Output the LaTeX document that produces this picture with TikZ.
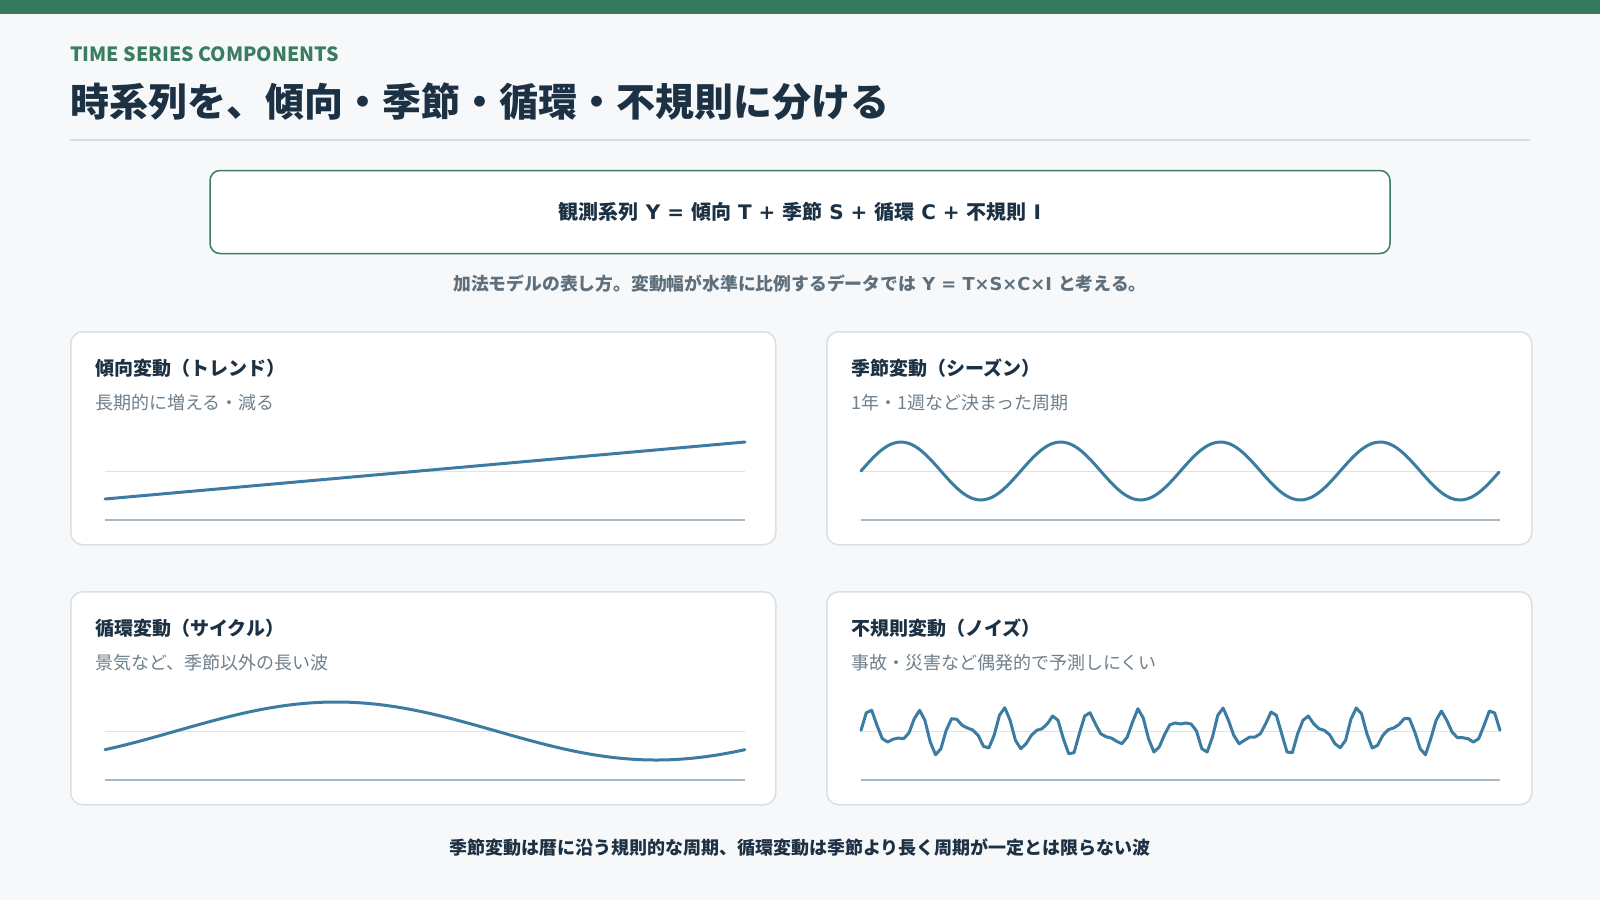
\documentclass[tikz,border=0pt]{standalone}
\usepackage{fontspec}
\setmainfont{Noto Sans CJK JP}
\newfontfamily\latinfont{DejaVu Sans}
\definecolor{topbar}{HTML}{357A5E}
\definecolor{pagebg}{HTML}{F6F8FA}
\definecolor{inkdark}{HTML}{1C3144}
\definecolor{leafgreen}{HTML}{3A7D60}
\definecolor{rulegray}{HTML}{D5DEE4}
\definecolor{panelline}{HTML}{D8E0E6}
\definecolor{notegray}{HTML}{5F6F7B}
\definecolor{subgray}{HTML}{6F808C}
\definecolor{curveblue}{HTML}{3C7CA2}
\definecolor{midgray}{HTML}{DCE4EA}
\definecolor{basegray}{HTML}{A9B8C3}
\begin{document}
\begin{tikzpicture}[x=1pt, y=-1pt,
    panel/.style={draw=panelline, line width=1.5, fill=white, rounded corners=12,
      minimum width=705, minimum height=213, anchor=north west, inner sep=0},
    paneltitle/.style={anchor=west, inner sep=0, text=inkdark, font=\bfseries\fontsize{19}{23}\selectfont},
    panelsub/.style={anchor=west, inner sep=0, text=subgray, font=\fontsize{18}{22}\selectfont},
    curve/.style={draw=curveblue, line width=3, line join=round, line cap=round},
    midline/.style={draw=midgray, line width=1},
    baseline/.style={draw=basegray, line width=2}]
  % Page
  \fill[pagebg] (0,0) rectangle (1600,900);
  \useasboundingbox (0,0) rectangle (1600,900);
  \fill[topbar] (0,0) rectangle (1600,14);

  % Heading
  \node (kicker) [anchor=west, inner sep=0, text=leafgreen, font=\bfseries\fontsize{19.6}{23}\selectfont]
    at (70,54) {TIME SERIES COMPONENTS};
  \node (title) [anchor=west, inner sep=0, text=inkdark, font=\bfseries\fontsize{39}{46}\selectfont]
    at (70,102) {時系列を、傾向・季節・循環・不規則に分ける};
  \draw[rulegray, line width=2] (70,140) -- (1530,140);

  % Formula
  \node (formula) [draw=leafgreen, line width=1.5, fill=white, rounded corners=10,
    minimum width=1180, minimum height=83, text=inkdark, font=\bfseries\fontsize{20}{24}\selectfont]
    at (800,212) {観測系列{\latinfont{} Y = }傾向{\latinfont{} T + }季節{\latinfont{} S + }循環{\latinfont{} C + }不規則{\latinfont{} I}};
  \node (note) [inner sep=0, text=notegray, font=\bfseries\fontsize{17.8}{21}\selectfont]
    at (800,284) {加法モデルの表し方。変動幅が水準に比例するデータでは{\latinfont{} Y = T×S×C×I }と考える。};

  % Panels
  \node (trend) [panel] at (70,331) {};
  \node (season) [panel] at (826,331) {};
  \node (cycle) [panel] at (70,591) {};
  \node (noise) [panel] at (826,591) {};

  \node (trendtitle) [paneltitle] at (95,368) {傾向変動（トレンド）};
  \node (trendsub) [panelsub] at (95,403) {長期的に増える・減る};
  \node (seasontitle) [paneltitle] at (851,368) {季節変動（シーズン）};
  \node (seasonsub) [panelsub] at (851,403) {1年・1週など決まった周期};
  \node (cycletitle) [paneltitle] at (95,628) {循環変動（サイクル）};
  \node (cyclesub) [panelsub] at (95,663) {景気など、季節以外の長い波};
  \node (noisetitle) [paneltitle] at (851,628) {不規則変動（ノイズ）};
  \node (noisesub) [panelsub] at (851,663) {事故・災害など偶発的で予測しにくい};

  % Axes
  \draw[midline] (105,471) -- (745,471);
  \draw[baseline] (105,520) -- (745,520);
  \draw[midline] (861,471) -- (1500,471);
  \draw[baseline] (861,520) -- (1500,520);
  \draw[midline] (105,731) -- (745,731);
  \draw[baseline] (105,780) -- (745,780);
  \draw[midline] (861,731) -- (1500,731);
  \draw[baseline] (861,780) -- (1500,780);

  % Curves
  \draw[curve] (105,499) -- (745,442);
  \draw[curve] plot[domain=0:1, samples=161, smooth] ({861+639*\x},{471-29*sin(1440*\x)});
  \draw[curve] plot[domain=0:1, samples=121, smooth] ({105+640*\x},{731-29*sin(360*\x-40)});
  \draw[curve] (861,730.3) \foreach \dy [count=\i] in {-18.3,-20.7,-5.7,7.7,11,8.3,7,7.7,2,-12.3,
      -20.7,-10.7,11,23.7,17.7,-0.7,-12.3,-11.7,-5.7,-3,-1,4.3,15.3,17,4.3,-15.7,-23.3,-10.7,9.3,17.7,
      12.7,4.3,-0.7,-2.3,-7.3,-15,-10.7,7.7,22.7,21.7,2.7,-15,-18.3,-7.3,2.7,5.7,7,10.3,12.7,6,
      -9,-22.3,-13,7.7,21,16,3.7,-6.3,-8,-7,-8,-7,0,17.7,21,6,-15.7,-23,-10.7,4.3,
      12.7,9.3,6,6,2.7,-7.3,-19,-15.7,2.7,21,21.7,2.7,-10.7,-15,-7.3,-2.3,-0.7,3.7,12.7,16.7,
      9.3,-11.7,-23,-17.3,2.7,17,14.3,4.3,-1.3,-3,-6.3,-12.3,-12.3,1,17.7,23.7,7.7,-10.7,-20,-10.7,
      1,6.7,6.7,7.7,11,7.7,-5.7,-20,-18,-0.7}
    { -- ({861+\i*5.325},{731+\dy}) };

  % Footer
  \node (footer) [inner sep=0, text=inkdark, font=\bfseries\fontsize{18}{22}\selectfont]
    at (800,848) {季節変動は暦に沿う規則的な周期、循環変動は季節より長く周期が一定とは限らない波};
\end{tikzpicture}
\end{document}
